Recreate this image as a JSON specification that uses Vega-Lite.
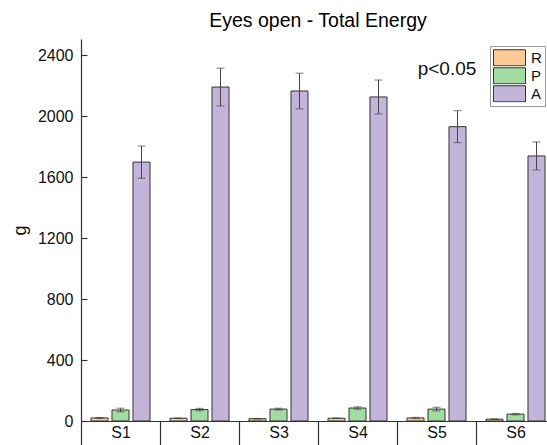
{
  "$schema": "https://vega.github.io/schema/vega-lite/v6.json",
  "autosize": {"type": "none"},
  "width": 474,
  "height": 382,
  "padding": {"left": 81, "top": 39, "right": 0, "bottom": 24},
  "title": {"text": "Eyes open - Total Energy", "fontSize": 19.5, "font": "Liberation Sans", "fontWeight": "normal", "color": "#000", "anchor": "middle", "offset": 8},
  "config": {
    "view": {"stroke": null},
    "font": "Liberation Sans",
    "axis": {"domainColor": "#333", "tickColor": "#333", "labelColor": "#111", "titleColor": "#111", "labelFont": "Liberation Sans", "titleFont": "Liberation Sans", "grid": false}
  },
  "data": {"values": [
    {"s": "S1", "g": "R", "v": 20, "lo": 17, "hi": 23},
    {"s": "S1", "g": "P", "v": 72, "lo": 60, "hi": 84},
    {"s": "S1", "g": "A", "v": 1698, "lo": 1592, "hi": 1803},
    {"s": "S2", "g": "R", "v": 18, "lo": 16, "hi": 20},
    {"s": "S2", "g": "P", "v": 75, "lo": 67, "hi": 83},
    {"s": "S2", "g": "A", "v": 2190, "lo": 2066, "hi": 2314},
    {"s": "S3", "g": "R", "v": 15, "lo": 13, "hi": 17},
    {"s": "S3", "g": "P", "v": 78, "lo": 72, "hi": 84},
    {"s": "S3", "g": "A", "v": 2164, "lo": 2047, "hi": 2281},
    {"s": "S4", "g": "R", "v": 18, "lo": 16, "hi": 20},
    {"s": "S4", "g": "P", "v": 85, "lo": 77, "hi": 93},
    {"s": "S4", "g": "A", "v": 2125, "lo": 2014, "hi": 2236},
    {"s": "S5", "g": "R", "v": 20, "lo": 16, "hi": 24},
    {"s": "S5", "g": "P", "v": 78, "lo": 66, "hi": 90},
    {"s": "S5", "g": "A", "v": 1930, "lo": 1825, "hi": 2035},
    {"s": "S6", "g": "R", "v": 12, "lo": 10, "hi": 14},
    {"s": "S6", "g": "P", "v": 45, "lo": 40, "hi": 50},
    {"s": "S6", "g": "A", "v": 1738, "lo": 1646, "hi": 1830}
  ]},
  "encoding": {
    "x": {"field": "s", "type": "nominal", "sort": null,
      "scale": {"paddingInner": 0, "paddingOuter": 0},
      "axis": {"title": null, "labelAngle": 0, "labelFontSize": 16, "tickBand": "extent", "tickSize": 24, "labelPadding": -21, "domainWidth": 1.2, "tickWidth": 1.2}},
    "xOffset": {"field": "g", "type": "nominal", "sort": ["R", "P", "A"],
      "scale": {"paddingInner": 0.19, "paddingOuter": 0.476}}
  },
  "layer": [
    {
      "mark": {"type": "bar", "stroke": "#333", "strokeWidth": 1},
      "encoding": {
        "y": {"field": "v", "type": "quantitative",
          "scale": {"domain": [0, 2505], "nice": false},
          "axis": {"title": "g", "titleFontSize": 18, "titleFontWeight": "normal", "titlePadding": 8,
            "values": [0, 200, 400, 600, 800, 1000, 1200, 1400, 1600, 1800, 2000, 2200, 2400],
            "labelExpr": "datum.value % 400 === 0 ? datum.label : ''",
            "format": "d", "labelFontSize": 16, "labelPadding": 14,
            "tickSize": {"condition": {"test": "datum.value % 400 === 0", "value": -6}, "value": -3},
            "domainWidth": 1.2, "tickWidth": 1.2}},
        "fill": {"field": "g", "type": "nominal",
          "scale": {"domain": ["R", "P", "A"], "range": ["#fac996", "#a2dca2", "#c3b4da"]},
          "legend": {"title": null, "orient": "none", "legendX": 409, "legendY": 7,
            "symbolType": "M-1,-0.5H1V0.5H-1Z", "symbolSize": 1024, "symbolStrokeColor": "#333", "symbolStrokeWidth": 1,
            "clipHeight": 17.5, "labelFontSize": 15, "labelColor": "#111", "labelOffset": 5, "rowPadding": 0,
            "fillColor": "#fff", "strokeColor": "#999", "padding": 3}}
      }
    },
    {
      "mark": {"type": "rule", "color": "#444", "strokeWidth": 1},
      "encoding": {"y": {"field": "lo", "type": "quantitative"}, "y2": {"field": "hi"}}
    },
    {
      "mark": {"type": "tick", "color": "#444", "size": 8, "thickness": 1, "orient": "horizontal"},
      "encoding": {"y": {"field": "hi", "type": "quantitative"}}
    },
    {
      "mark": {"type": "tick", "color": "#444", "size": 8, "thickness": 1, "orient": "horizontal"},
      "encoding": {"y": {"field": "lo", "type": "quantitative"}}
    },
    {
      "data": {"values": [{"t": "p<0.05"}]},
      "mark": {"type": "text", "fontSize": 19, "color": "#111", "dx": 50, "baseline": "middle"},
      "encoding": {"x": {"datum": "S5"}, "y": {"datum": 2310}, "text": {"field": "t"}, "xOffset": {"value": 0}}
    }
  ]
}
